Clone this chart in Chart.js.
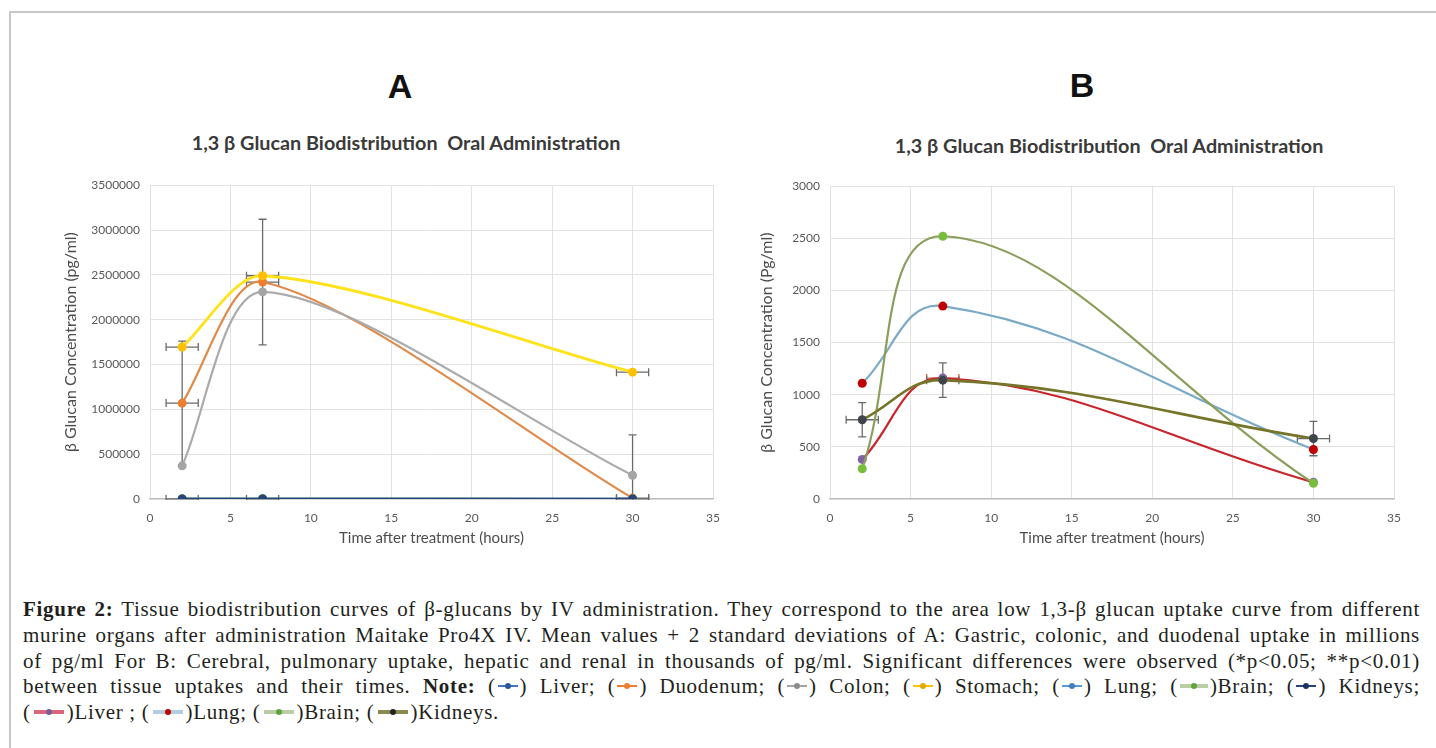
<!DOCTYPE html>
<html>
<head>
<meta charset="utf-8">
<script src="https://cdn.jsdelivr.net/npm/chart.js@4.4.0/dist/chart.umd.min.js"></script>
<style>
  html, body { margin: 0; padding: 0; background: #fff; }
  body { width: 1436px; height: 748px; position: relative; overflow: hidden; }
  .frame { position: absolute; left: 9px; top: 11px; width: 1460px; height: 800px;
           border-top: 2px solid #c8c8c8; border-left: 2px solid #c8c8c8; }
  .panel { position: absolute; font-family: "Liberation Sans", Arial, sans-serif; font-weight: bold;
           font-size: 34px; line-height: 34px; color: #111; transform: translateX(-50%); }
  .ttl { position: absolute; font-family: Lato, sans-serif; font-weight: bold; font-size: 19.8px;
         line-height: 20px; color: #3a3a3a; white-space: pre; transform: translateX(-50%); }
  canvas { position: absolute; }
  .cap { position: absolute; left: 23px; top: 597px; width: 1397px; font-family: "Liberation Serif", serif;
         font-size: 21px; letter-spacing: 0.7px; line-height: 25.75px; color: #231f20; }
  .cap .j { text-align: justify; text-align-last: justify; }
  .sw { display: inline-block; position: relative; width: 20px; height: 10px; vertical-align: 2px; margin: 0 2px; }
  .sw::before { content: ""; position: absolute; left: 0; right: 0; top: 4px; height: 2px; background: var(--l); }
  .sw::after { content: ""; position: absolute; left: 50%; top: 2px; width: 6px; height: 6px; margin-left: -3px;
               border-radius: 50%; background: var(--d); }
  .sw.w { width: 28px; }
  .sw.w::before { top: 3px; height: 4px; opacity: .8; }
  .last .sw { width: 30px; margin: 0 3px; }
</style>
</head>
<body>
<div class="frame"></div>

<div class="panel" style="left:400px; top:69px;">A</div>
<div class="panel" style="left:1082px; top:68px;">B</div>
<div class="ttl" style="left:406px; top:132px;">1,3 β Glucan Biodistribution  Oral Administration</div>
<div class="ttl" style="left:1109px; top:135px;">1,3 β Glucan Biodistribution  Oral Administration</div>

<canvas id="chartA" width="700" height="383" style="left:50px; top:168px;"></canvas>
<canvas id="chartB" width="684" height="382" style="left:746px; top:169px;"></canvas>

<div class="cap">
  <div class="j"><b>Figure 2:</b> Tissue biodistribution curves of β-glucans by IV administration. They correspond to the area low 1,3-β glucan uptake curve from different</div>
  <div class="j">murine organs after administration Maitake Pro4X IV. Mean values + 2 standard deviations of A: Gastric, colonic, and duodenal uptake in millions</div>
  <div class="j">of pg/ml For B: Cerebral, pulmonary uptake, hepatic and renal in thousands of pg/ml. Significant differences were observed (*p&lt;0.05; **p&lt;0.01)</div>
  <div class="j">between tissue uptakes and their times. <b>Note:</b> (<span class="sw" style="--l:#4472C4;--d:#2f5597"></span>) Liver; (<span class="sw" style="--l:#ED7D31;--d:#ED7D31"></span>) Duodenum; (<span class="sw" style="--l:#A5A5A5;--d:#8c8c8c"></span>) Colon; (<span class="sw" style="--l:#FFC000;--d:#e0a800"></span>) Stomach; (<span class="sw" style="--l:#5B9BD5;--d:#3f7fbf"></span>) Lung; (<span class="sw w" style="--l:#a9c08e;--d:#5fa33a"></span>)Brain; (<span class="sw" style="--l:#264478;--d:#1c3360"></span>) Kidneys;</div>
  <div class="last">(<span class="sw w" style="--l:#d0405a;--d:#7a5a9a"></span>)Liver ; (<span class="sw w" style="--l:#9cc3dc;--d:#c00000"></span>)Lung; (<span class="sw w" style="--l:#a9c08e;--d:#5fa33a"></span>)Brain; (<span class="sw w" style="--l:#6b6b23;--d:#222"></span>)Kidneys.</div>
</div>

<script>
// sampling times (hours)
const hours = [2, 7, 30];
const hoursSD = [1, 1, 1];

// A: oral, pg/ml
const liverA = [380, 1160, 160];
const duodenumA = [1070000, 2420000, 10000];
const duodenumSDA = [690000, 700000, 705000];
const colonA = [370000, 2310000, 265000];
const stomachA = [1695000, 2490000, 1415000];
const lungA = [1110, 1850, 475];
const brainA = [290, 2520, 150];
const kidneysA = [760, 1140, 580];

// B: pg/ml
const liverB = [380, 1160, 160];
const liverHoursSDB = [0, 1, 0];
const lungB = [1110, 1850, 475];
const brainB = [290, 2520, 150];
const kidneysB = [760, 1140, 580];
const kidneysSDB = [165, 165, 165];

const xTicks = [0, 5, 10, 15, 20, 25, 30, 35];

const pts = vals => vals.map((v, i) => ({ x: hours[i], y: v }));

function series(label, vals, line, dot, extra) {
  return Object.assign({
    label: label,
    data: pts(vals),
    borderColor: line,
    backgroundColor: dot,
    pointBackgroundColor: dot,
    pointBorderWidth: 0,
    pointRadius: 4.5,
    borderWidth: 2.2,
    showLine: true,
    tension: 0.4
  }, extra || {});
}

// error bars, drawn through the chart's own scales
const errorBars = {
  id: 'errorBars',
  beforeDatasetsDraw(chart) {
    const { ctx, chartArea: a, scales: { x, y } } = chart;
    ctx.save();
    ctx.beginPath();
    ctx.rect(a.left, a.top - 1, a.width, a.height + 2);
    ctx.clip();
    ctx.lineWidth = 1.3;
    chart.data.datasets.forEach(ds => {
      ctx.strokeStyle = ds.errColor || '#6a6a6a';
      ds.data.forEach((p, i) => {
        const px = x.getPixelForValue(p.x), py = y.getPixelForValue(p.y);
        ctx.beginPath();
        if (ds.yErr && ds.yErr[i]) {
          const t = y.getPixelForValue(p.y + ds.yErr[i]), b = y.getPixelForValue(p.y - ds.yErr[i]);
          ctx.moveTo(px, t); ctx.lineTo(px, b);
          ctx.moveTo(px - 4, t); ctx.lineTo(px + 4, t);
          ctx.moveTo(px - 4, b); ctx.lineTo(px + 4, b);
        }
        if (ds.xErr && ds.xErr[i]) {
          const l = x.getPixelForValue(p.x - ds.xErr[i]), r = x.getPixelForValue(p.x + ds.xErr[i]);
          ctx.moveTo(l, py); ctx.lineTo(r, py);
          ctx.moveTo(l, py - 4); ctx.lineTo(l, py + 4);
          ctx.moveTo(r, py - 4); ctx.lineTo(r, py + 4);
        }
        ctx.stroke();
      });
    });
    ctx.restore();
  }
};

const tickFont = { family: 'Lato', size: 12 };

function makeChart(id, datasets, yMax, yStep, yTitle, yWidth, padRight) {
  // first dataset at the bottom, last on top
  datasets.forEach((d, i) => { d.order = datasets.length - i; });
  return new Chart(document.getElementById(id), {
    type: 'scatter',
    data: { datasets: datasets },
    options: {
      responsive: false,
      animation: false,
      devicePixelRatio: 1,
      layout: { padding: { left: 8, top: 10, right: padRight, bottom: 0 } },
      plugins: { legend: { display: false }, tooltip: { enabled: false } },
      scales: {
        x: {
          type: 'linear', min: 0, max: 35,
          afterBuildTicks: s => { s.ticks = xTicks.map(v => ({ value: v })); },
          ticks: { padding: 12, color: '#595959', font: tickFont },
          grid: { color: '#e2e2e2', drawTicks: false },
          border: { color: '#bdbdbd', width: 1.3 },
          title: { display: true, text: 'Time after treatment (hours)', color: '#4d4d4d',
                   font: { family: 'Lato', size: 15 }, padding: { top: 4, bottom: 4 } },
          afterFit: s => { s.height = 52; }
        },
        y: {
          min: 0, max: yMax,
          ticks: { stepSize: yStep, padding: 10, color: '#595959', font: tickFont, callback: v => String(v) },
          grid: { color: '#e2e2e2', drawTicks: false },
          border: { display: false },
          title: { display: true, text: yTitle, color: '#4d4d4d',
                   font: { family: 'Lato', size: 16 }, padding: { top: 3, bottom: 3 } },
          afterFit: s => { s.width = yWidth; }
        }
      }
    },
    plugins: [errorBars]
  });
}

makeChart('chartA', [
  series('Liver', liverA, '#4472C4', '#4472C4'),
  series('Duodenum', duodenumA, '#E08A4A', '#ED7D31', { yErr: duodenumSDA, xErr: hoursSD, tension: 0.28 }),
  series('Colon', colonA, '#ABABAB', '#A5A5A5', { tension: 0.28 }),
  series('Stomach', stomachA, '#FFE21A', '#FFC000', { xErr: hoursSD, borderWidth: 2.8, tension: 0.28 }),
  series('Lung', lungA, '#5B9BD5', '#5B9BD5'),
  series('Brain', brainA, '#70AD47', '#70AD47'),
  series('Kidneys', kidneysA, '#264478', '#264478', { xErr: hoursSD })
], 3500000, 500000, 'β Glucan Concentration (pg/ml)', 92, 37);

makeChart('chartB', [
  series('Liver', liverB, '#C8262C', '#8064A2', { xErr: liverHoursSDB, errColor: '#d0603a' }),
  series('Lung', lungB, '#7AAAC8', '#C00000'),
  series('Brain', brainB, '#8C9E5C', '#78BE3C'),
  series('Kidneys', kidneysB, '#75752A', '#3F464B', { yErr: kidneysSDB, xErr: hoursSD, borderWidth: 2.6 })
], 3000, 500, 'β Glucan Concentration (Pg/ml)', 76, 36);
</script>
</body>
</html>
